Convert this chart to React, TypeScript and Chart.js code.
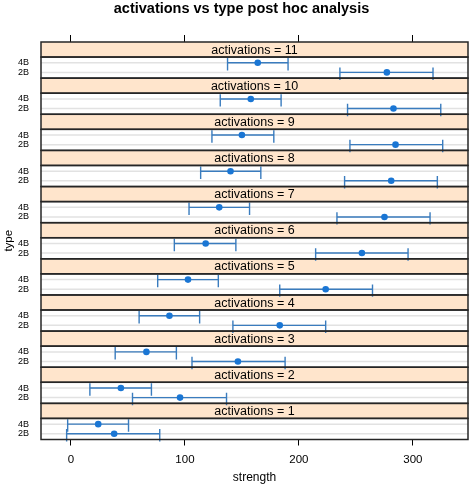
import React, { useEffect, useRef } from "react";
import { Chart, registerables } from "chart.js";

Chart.register(...registerables);

// ---- data ----
const activations = [1, 2, 3, 4, 5, 6, 7, 8, 9, 10, 11];
const types = ["4B", "2B"];
const mean4B = [23.9, 43.8, 66.2, 86.4, 102.7, 118.2, 130.1, 140.0, 150.0, 157.8, 163.9];
const lo4B = [-2.9, 16.6, 38.8, 59.8, 76.1, 90.7, 103.6, 113.8, 123.7, 131.0, 137.4];
const hi4B = [50.5, 70.6, 92.5, 112.9, 129.3, 144.7, 156.7, 166.6, 178.0, 184.4, 190.5];
const mean2B = [37.9, 95.7, 146.5, 183.2, 223.5, 255.3, 275.1, 281.0, 284.8, 283.0, 277.2];
const lo2B = [-3.8, 54.0, 106.2, 142.1, 183.2, 214.7, 233.4, 240.1, 244.8, 242.7, 236.0];
const hi2B = [77.9, 136.5, 187.9, 223.5, 264.6, 295.8, 315.1, 321.5, 326.2, 324.5, 317.7];
const xTicks = [0, 100, 200, 300];

const series = [
  { type: "4B", mean: mean4B, lo: lo4B, hi: hi4B },
  { type: "2B", mean: mean2B, lo: lo2B, hi: hi2B },
];

// ---- panel geometry in y-units ----
const PLOT_H = 2.2;
const STRIP_H = 1.57;
const PANEL_H = PLOT_H + STRIP_H;
const ROW_OFFSET: Record<string, number> = { "4B": 1.6, "2B": 0.6 };
const rowY = (k: number, t: string) => k * PANEL_H + ROW_OFFSET[t];

const yTickValues: number[] = [];
const yTickLabels: string[] = [];
activations.forEach((_, k) => {
  [...types].reverse().forEach((t) => {
    yTickValues.push(rowY(k, t));
    yTickLabels.push(t);
  });
});

const FONT = "'Liberation Sans', Arial, sans-serif";
const STRIP_FILL = "#ffe5cc";
const BORDER = "#262626";
const BAR_COLOR = "#3a7cbe";
const POINT_COLOR = "#1a76d4";

const latticePlugin = {
  id: "lattice",
  beforeDatasetsDraw(chart: any) {
    const { ctx, chartArea: a, scales } = chart;
    const x = scales.x;
    const y = scales.y;
    ctx.save();
    activations.forEach((act, k) => {
      const base = k * PANEL_H;
      const pTop = y.getPixelForValue(base + PLOT_H);
      const sTop = y.getPixelForValue(base + PANEL_H);
      ctx.fillStyle = STRIP_FILL;
      ctx.fillRect(a.left, sTop, a.right - a.left, pTop - sTop);
      // reference lines
      ctx.strokeStyle = "#e2e2e2";
      ctx.lineWidth = 1.5;
      types.forEach((t) => {
        const py = y.getPixelForValue(rowY(k, t));
        ctx.beginPath();
        ctx.moveTo(a.left, py);
        ctx.lineTo(a.right, py);
        ctx.stroke();
      });
      // strip label
      ctx.fillStyle = "#000";
      ctx.font = `12.5px ${FONT}`;
      ctx.textAlign = "center";
      ctx.textBaseline = "middle";
      ctx.fillText(`activations = ${act}`, (a.left + a.right) / 2, (sTop + pTop) / 2 + 0.6);
    });
    // error bars
    ctx.strokeStyle = BAR_COLOR;
    ctx.lineWidth = 1.4;
    series.forEach((s) => {
      activations.forEach((_, k) => {
        const ry = rowY(k, s.type);
        const py = y.getPixelForValue(ry);
        const x0 = x.getPixelForValue(s.lo[k]);
        const x1 = x.getPixelForValue(s.hi[k]);
        const cTop = y.getPixelForValue(ry + 0.5);
        const cBot = y.getPixelForValue(ry - 0.8);
        ctx.beginPath();
        ctx.moveTo(x0, py);
        ctx.lineTo(x1, py);
        ctx.moveTo(x0, cTop);
        ctx.lineTo(x0, cBot);
        ctx.moveTo(x1, cTop);
        ctx.lineTo(x1, cBot);
        ctx.stroke();
      });
    });
    ctx.restore();
  },
  afterDatasetsDraw(chart: any) {
    const { ctx, chartArea: a, scales } = chart;
    const y = scales.y;
    ctx.save();
    ctx.strokeStyle = BORDER;
    ctx.lineWidth = 1.5;
    activations.forEach((_, k) => {
      const base = k * PANEL_H;
      const pBot = y.getPixelForValue(base);
      const pTop = y.getPixelForValue(base + PLOT_H);
      const sTop = y.getPixelForValue(base + PANEL_H);
      ctx.strokeRect(a.left, pTop, a.right - a.left, pBot - pTop);
      ctx.strokeRect(a.left, sTop, a.right - a.left, pTop - sTop);
    });
    ctx.restore();
  },
};

export default function App() {
  const ref = useRef<HTMLCanvasElement | null>(null);
  useEffect(() => {
    document.body.style.margin = "0";
    if (!ref.current) return;
    const points: { x: number; y: number }[] = [];
    series.forEach((s) => {
      activations.forEach((_, k) => points.push({ x: s.mean[k], y: rowY(k, s.type) }));
    });
    const setTicks = (scale: any) => {
      scale.ticks = xTicks.map((v) => ({ value: v }));
    };
    const chart = new Chart(ref.current, {
      type: "scatter",
      data: {
        datasets: [
          {
            data: points,
            pointRadius: 3.3,
            pointBackgroundColor: POINT_COLOR,
            pointBorderWidth: 0,
          },
        ],
      },
      plugins: [latticePlugin],
      options: {
        animation: false,
        responsive: false,
        devicePixelRatio: 1,
        events: [],
        layout: { padding: { left: 14, right: 3, top: 0, bottom: 0 } },
        plugins: {
          legend: { display: false },
          tooltip: { enabled: false },
          title: {
            display: true,
            text: "activations vs type post hoc analysis",
            color: "#000",
            font: { family: FONT, size: 14.5, weight: "bold", lineHeight: 1 },
            padding: { top: 2, bottom: 0 },
          },
        },
        scales: {
          x: {
            type: "linear",
            position: "bottom",
            min: -26.3,
            max: 348.4,
            afterBuildTicks: setTicks,
            afterFit: (s: any) => {
              s.height = 46.5;
            },
            border: { display: false },
            grid: { drawOnChartArea: false, drawTicks: true, tickLength: 6, color: "#000", lineWidth: 1 },
            ticks: { color: "#000", font: { family: FONT, size: 11.5 }, padding: 7, maxRotation: 0 },
            title: {
              display: true,
              text: "strength",
              color: "#000",
              font: { family: FONT, size: 12 },
              padding: { top: 0, bottom: 1 },
            },
          },
          x2: {
            type: "linear",
            axis: "x",
            position: "top",
            min: -26.3,
            max: 348.4,
            afterBuildTicks: setTicks,
            afterFit: (s: any) => {
              s.height = 25.5;
            },
            border: { display: false },
            grid: { drawOnChartArea: false, drawTicks: true, tickLength: 7, color: "#000", lineWidth: 1 },
            ticks: { display: false },
          },
          y: {
            type: "linear",
            min: 0,
            max: activations.length * PANEL_H,
            afterBuildTicks: (s: any) => {
              s.ticks = yTickValues.map((v) => ({ value: v }));
            },
            afterFit: (s: any) => {
              s.width = 27;
            },
            border: { display: false },
            grid: { display: false, drawTicks: false },
            ticks: {
              autoSkip: false,
              color: "#000",
              font: { family: FONT, size: 9 },
              padding: 12,
              callback: (_v: any, i: number) => yTickLabels[i],
            },
            title: {
              display: true,
              text: "type",
              color: "#000",
              font: { family: FONT, size: 11.5 },
              padding: { top: -11.6, bottom: 0 },
            },
          },
        },
      } as any,
    });
    return () => chart.destroy();
  }, []);
  return (
    <div style={{ width: 472, height: 486 }}>
      <canvas ref={ref} width={472} height={486} style={{ display: "block", width: 472, height: 486 }} />
    </div>
  );
}
